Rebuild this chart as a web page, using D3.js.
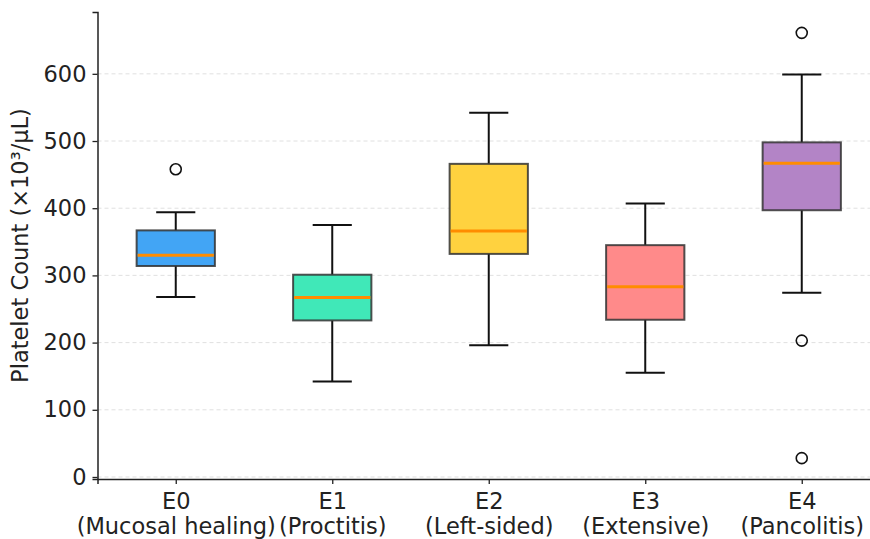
<!DOCTYPE html>
<html>
<head>
<meta charset="utf-8">
<script src="https://cdn.jsdelivr.net/npm/d3@7"></script>
<style>
  body { margin: 0; background: #fff; }
  text { font-family: "DejaVu Sans", sans-serif; fill: #222; }
</style>
</head>
<body>
<div class="chart"></div>
<script>
var svgWidth = 870;
var svgHeight = 539;

var margin = { top: 12, right: -10, bottom: 60, left: 97.5 };
var width = svgWidth - margin.left - margin.right;
var height = svgHeight - margin.top - margin.bottom;

// data
var codes = ["E0", "E1", "E2", "E3", "E4"];
var names = ["(Mucosal healing)", "(Proctitis)", "(Left-sided)", "(Extensive)", "(Pancolitis)"];
var whiskerLow = [268, 142, 196, 155, 274];
var q1 = [314, 233, 332, 234, 397];
var median = [330, 267, 366, 283, 467];
var q3 = [367, 301, 466, 345, 498];
var whiskerHigh = [394, 375, 542, 407, 599];
var outliers = [[458], [], [], [], [661, 203, 28]];
var colors = ["#42a5f5", "#40e8b8", "#ffd23f", "#ff8a8a", "#b384c6"];
var yTicks = [0, 100, 200, 300, 400, 500, 600];

var fontSize = "22.5px";

var svg = d3.select(".chart")
  .append("svg")
  .attr("width", svgWidth)
  .attr("height", svgHeight);

var chartGroup = svg.append("g").attr("transform", `translate(${margin.left}, ${margin.top})`);

var xScale = d3.scaleLinear().domain([0.5, 5.5]).range([0, width]);
var yScale = d3.scaleLinear().domain([-3, 692]).range([height, 0]);

// grid
chartGroup.selectAll(".grid")
  .data(yTicks)
  .enter()
  .append("line")
  .attr("x1", 0)
  .attr("x2", width)
  .attr("y1", d => yScale(d))
  .attr("y2", d => yScale(d))
  .attr("stroke", "#dddddd")
  .attr("stroke-width", 0.9)
  .attr("stroke-dasharray", "4,3");

var boxW = xScale(1.25) - xScale(1);
var capW = xScale(1.125) - xScale(1);

var groups = chartGroup.selectAll(".box")
  .data(codes)
  .enter()
  .append("g")
  .attr("transform", (d, i) => `translate(${xScale(i + 1)}, 0)`);

// whiskers
groups.append("line")
  .attr("y1", (d, i) => yScale(whiskerLow[i]))
  .attr("y2", (d, i) => yScale(q1[i]))
  .attr("stroke", "#111").attr("stroke-width", 2);
groups.append("line")
  .attr("y1", (d, i) => yScale(q3[i]))
  .attr("y2", (d, i) => yScale(whiskerHigh[i]))
  .attr("stroke", "#111").attr("stroke-width", 2);
groups.append("line")
  .attr("x1", -capW).attr("x2", capW)
  .attr("y1", (d, i) => yScale(whiskerLow[i]))
  .attr("y2", (d, i) => yScale(whiskerLow[i]))
  .attr("stroke", "#111").attr("stroke-width", 2);
groups.append("line")
  .attr("x1", -capW).attr("x2", capW)
  .attr("y1", (d, i) => yScale(whiskerHigh[i]))
  .attr("y2", (d, i) => yScale(whiskerHigh[i]))
  .attr("stroke", "#111").attr("stroke-width", 2);

// boxes
groups.append("rect")
  .attr("x", -boxW)
  .attr("width", 2 * boxW)
  .attr("y", (d, i) => yScale(q3[i]))
  .attr("height", (d, i) => yScale(q1[i]) - yScale(q3[i]))
  .attr("fill", (d, i) => colors[i])
  .attr("stroke", "#333")
  .attr("stroke-opacity", 0.85)
  .attr("stroke-width", 2);

// medians
groups.append("line")
  .attr("x1", -boxW + 1).attr("x2", boxW - 1)
  .attr("y1", (d, i) => yScale(median[i]))
  .attr("y2", (d, i) => yScale(median[i]))
  .attr("stroke", "#ff8c00").attr("stroke-width", 3);

// fliers
groups.selectAll("circle")
  .data((d, i) => outliers[i])
  .enter()
  .append("circle")
  .attr("cy", d => yScale(d))
  .attr("r", 5.5)
  .attr("fill", "none")
  .attr("stroke", "#111")
  .attr("stroke-width", 1.6);

// axes
var yaxis = d3.axisLeft(yScale).tickValues(yTicks).tickSize(5).tickPadding(6);
var yG = chartGroup.append("g").call(yaxis);
yG.selectAll("text").style("font-size", fontSize).attr("fill", "#222");
yG.selectAll(".tick line").attr("stroke", "#222").attr("stroke-width", 1.3);
yG.select(".domain").attr("stroke", "#222").attr("stroke-width", 1.5);

var xaxis = d3.axisBottom(xScale).tickValues([1, 2, 3, 4, 5]).tickSize(5).tickFormat("");
var xG = chartGroup.append("g").attr("transform", `translate(0, ${height})`).call(xaxis);
xG.selectAll(".tick line").attr("stroke", "#222").attr("stroke-width", 1.3);
xG.select(".domain").attr("stroke", "#222").attr("stroke-width", 1.5);

xG.selectAll(".tick").each(function(d, i) {
  var t = d3.select(this).append("text")
    .attr("text-anchor", "middle")
    .style("font-size", fontSize)
    .attr("fill", "#222");
  t.append("tspan").attr("x", 0).attr("y", 30).text(codes[i]);
  t.append("tspan").attr("x", 0).attr("y", 55).text(names[i]);
});

chartGroup.append("text")
  .attr("transform", `translate(${-margin.left + 28}, ${height / 2 - 0}) rotate(-90)`)
  .attr("text-anchor", "middle")
  .style("font-size", fontSize)
  .text("Platelet Count (×10³/μL)");
</script>
</body>
</html>
